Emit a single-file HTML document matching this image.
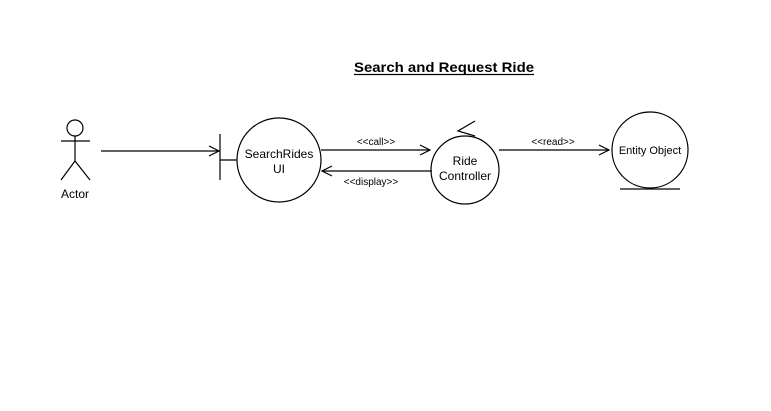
<!DOCTYPE html>
<html><head><meta charset="utf-8"><style>
html,body{margin:0;padding:0;background:#fff;width:771px;height:411px;overflow:hidden}
svg{display:block}
text{font-family:"Liberation Sans",Arial,sans-serif;fill:#000}
</style></head><body>
<svg width="771" height="411" viewBox="0 0 771 411" xmlns="http://www.w3.org/2000/svg">
<g fill="none" stroke="#000" stroke-width="1.2">
<circle cx="75" cy="128" r="8"/>
<line x1="75" y1="136" x2="75" y2="161"/>
<line x1="61" y1="141" x2="90" y2="141"/>
<line x1="75" y1="161" x2="61" y2="180"/>
<line x1="75" y1="161" x2="90" y2="180"/>
<line x1="101" y1="151" x2="219" y2="151"/>
<polyline points="209,146 219,151 209,156"/>
<line x1="220" y1="134" x2="220" y2="180"/>
<line x1="220" y1="160" x2="237" y2="160"/>
<circle cx="279" cy="160" r="42"/>
<line x1="321" y1="150" x2="430" y2="150"/>
<polyline points="420,145 430,150 420,155"/>
<line x1="432" y1="171" x2="322" y2="171"/>
<polyline points="332,166 322,171 332,176"/>
<circle cx="465" cy="170" r="34"/>
<polyline points="475,121 458,131 475,136"/>
<line x1="499" y1="150" x2="609" y2="150"/>
<polyline points="599,145 609,150 599,155"/>
<circle cx="650" cy="150" r="38"/>
<line x1="620" y1="189" x2="680" y2="189"/>
</g>
<text x="354" y="72" font-size="14" font-weight="bold" textLength="180" lengthAdjust="spacingAndGlyphs">Search and Request Ride</text>
<line x1="354" y1="74.5" x2="534" y2="74.5" stroke="#000" stroke-width="1.2"/>
<text x="75" y="198" font-size="12" text-anchor="middle">Actor</text>
<text x="279" y="158" font-size="12" text-anchor="middle">SearchRides</text>
<text x="279" y="173" font-size="12" text-anchor="middle">UI</text>
<text x="465" y="165" font-size="12" text-anchor="middle">Ride</text>
<text x="465" y="180" font-size="12" text-anchor="middle">Controller</text>
<text x="650" y="154" font-size="11" text-anchor="middle">Entity Object</text>
<text x="376" y="145" font-size="10" text-anchor="middle">&lt;&lt;call&gt;&gt;</text>
<text x="371" y="185" font-size="10" text-anchor="middle">&lt;&lt;display&gt;&gt;</text>
<text x="553" y="145" font-size="10" text-anchor="middle">&lt;&lt;read&gt;&gt;</text>
</svg>
</body></html>
